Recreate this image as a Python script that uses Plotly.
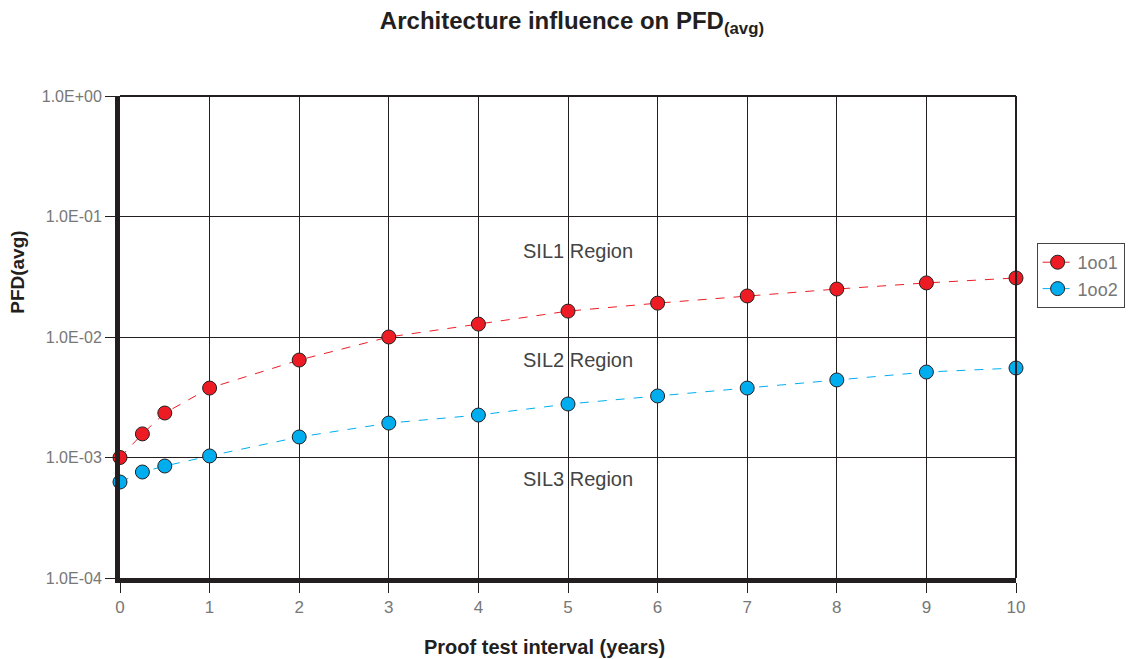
import math
import plotly.graph_objects as go

# proof test interval (years)
years = [0, 0.25, 0.5, 1, 2, 3, 4, 5, 6, 7, 8, 9, 10]
# PFD(avg)
pfd_1oo1 = [1.0e-3, 1.57e-3, 2.34e-3, 3.77e-3, 6.44e-3, 1.0e-2, 1.28e-2,
            1.64e-2, 1.91e-2, 2.19e-2, 2.50e-2, 2.81e-2, 3.09e-2]
pfd_1oo2 = [6.26e-4, 7.58e-4, 8.5e-4, 1.03e-3, 1.48e-3, 1.93e-3, 2.25e-3,
            2.78e-3, 3.24e-3, 3.77e-3, 4.4e-3, 5.12e-3, 5.53e-3]

y_tickvals = [1e0, 1e-1, 1e-2, 1e-3, 1e-4]
y_ticktext = ["1.0E+00", "1.0E-01", "1.0E-02", "1.0E-03", "1.0E-04"]
x_ticks = list(range(0, 11))

regions = ["SIL1 Region", "SIL2 Region", "SIL3 Region"]
region_y = [0.0517, 0.0064, 0.00066]

FONT = "Liberation Sans"
INK = "#231F20"

fig = go.Figure()
fig.add_trace(go.Scatter(
    x=years, y=pfd_1oo1, name="1oo1", mode="lines+markers",
    line=dict(color="#ED1C24", width=1, dash="dash"),
    marker=dict(size=14, color="#ED1C24", line=dict(color=INK, width=1)),
    cliponaxis=False))
fig.add_trace(go.Scatter(
    x=years, y=pfd_1oo2, name="1oo2", mode="lines+markers",
    line=dict(color="#00AEEF", width=1, dash="dash"),
    marker=dict(size=14, color="#00AEEF", line=dict(color=INK, width=1)),
    cliponaxis=False))

# log axis: annotation y is given in log10 units
for txt, yv in zip(regions, region_y):
    fig.add_annotation(x=5.11, y=math.log10(yv), yref="y", xref="x", text=txt,
                       showarrow=False,
                       font=dict(family=FONT, size=20, color="#444"))

# axis titles sit off-centre in the original, so place them as annotations
fig.add_annotation(x=0.474, y=-0.143, xref="paper", yref="paper",
                   xanchor="center", yanchor="middle",
                   text="<b>Proof test interval (years)</b>", showarrow=False,
                   font=dict(family=FONT, size=20, color=INK))
fig.add_annotation(x=-0.114, y=0.635, xref="paper", yref="paper",
                   xanchor="center", yanchor="middle",
                   text="<b>PFD(avg)</b>", showarrow=False, textangle=-90,
                   font=dict(family=FONT, size=19, color=INK))

# thin top / right frame
fig.add_shape(type="line", xref="paper", yref="paper", x0=0, x1=1, y0=1, y1=1,
              line=dict(color=INK, width=2), layer="above")
fig.add_shape(type="line", xref="paper", yref="paper", x0=1, x1=1, y0=0, y1=1,
              line=dict(color=INK, width=2), layer="above")

fig.update_xaxes(
    range=[0, 10], tickvals=x_ticks, showgrid=True, gridcolor=INK, gridwidth=1,
    showline=True, linecolor=INK, linewidth=5, zeroline=False, automargin=False,
    ticks="outside", ticklen=10, tickcolor=INK, tickwidth=1,
    tickfont=dict(family=FONT, size=17, color="#777"))
fig.update_yaxes(
    type="log", range=[-4, 0], tickvals=y_tickvals, ticktext=y_ticktext,
    showgrid=True, gridcolor=INK, gridwidth=1,
    showline=True, linecolor=INK, linewidth=5, zeroline=False, automargin=False,
    ticks="outside", ticklen=10, tickcolor=INK, tickwidth=1,
    tickfont=dict(family=FONT, size=16, color="#777"))

# page body has an 8px margin, so the margins are offset by 8px
fig.update_layout(
    width=1137, height=659,
    margin=dict(l=112, r=129, t=88, b=89, autoexpand=False),
    paper_bgcolor="white", plot_bgcolor="white",
    title=dict(text="<b>Architecture influence on PFD<sub>(avg)</sub></b>",
               x=0.496, xanchor="center", y=0.993, yanchor="top",
               font=dict(family=FONT, size=24, color=INK)),
    legend=dict(x=1.023, y=0.695, xanchor="left", yanchor="top",
                bordercolor="#444", borderwidth=1, tracegroupgap=0,
                font=dict(family=FONT, size=18, color="#777")),
)

fig.write_html("out.html")
